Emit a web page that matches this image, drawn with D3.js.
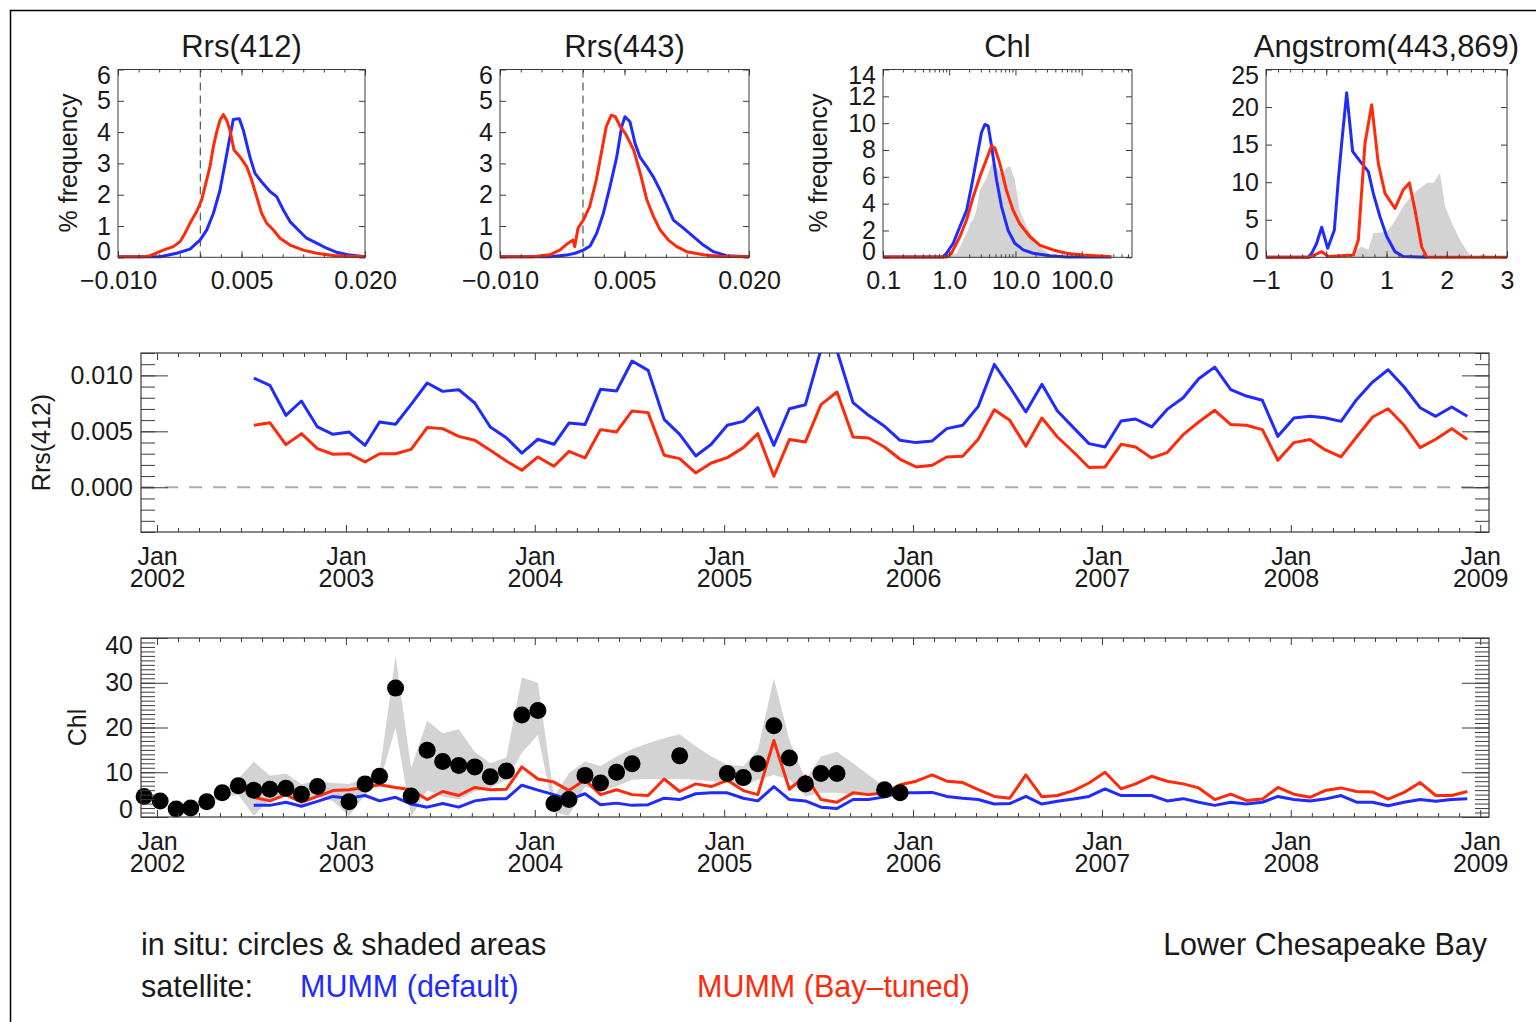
<!DOCTYPE html>
<html><head><meta charset="utf-8">
<script src="https://cdn.jsdelivr.net/npm/d3@7"></script>
<style>
body{margin:0;background:#fff;}
svg{display:block;}
</style></head><body>
<svg id="c" width="1536" height="1022"></svg>
<script>
// ---------------- DATA ----------------
// Histogram: Rrs(412)
const r412BlueX = [-0.010,-0.0049,-0.00287,-0.00126,-0.00004,0.00077,0.00158,0.00239,0.0030,0.0036,0.0040,0.00474,0.00522,0.00603,0.00664,0.00745,0.00846,0.00927,0.01008,0.01089,0.0119,0.01291,0.01413,0.01534,0.01656,0.01818,0.020];
const r412BlueY = [0,0.02,0.13,0.26,0.55,0.87,1.4,2.15,3.0,3.85,4.4,4.43,4.06,3.2,2.68,2.41,2.1,1.94,1.51,1.14,0.87,0.61,0.45,0.29,0.16,0.07,0];
const r412RedX = [-0.010,-0.0069,-0.0061,-0.0045,-0.00328,-0.00247,-0.00186,-0.00125,-0.00045,0.00016,0.00077,0.00117,0.00158,0.00198,0.00239,0.00279,0.0032,0.0036,0.00409,0.00482,0.00563,0.00623,0.00684,0.00745,0.00806,0.00887,0.00968,0.01089,0.01251,0.01413,0.01615,0.01818,0.020];
const r412RedY = [0,0.02,0.05,0.23,0.34,0.5,0.77,1.09,1.46,1.83,2.47,2.9,3.53,4.0,4.38,4.56,4.38,4.06,3.43,3.21,2.9,2.47,1.94,1.4,1.09,0.87,0.61,0.39,0.23,0.13,0.06,0.03,0];
// Histogram: Rrs(443)
const r443BlueX = [-0.010,-0.004,-0.002,-0.00096,0.00004,0.00085,0.00165,0.00245,0.00325,0.00406,0.00466,0.00506,0.00566,0.00627,0.00687,0.00767,0.00847,0.00928,0.0101,0.0109,0.0121,0.0133,0.0145,0.0157,0.0173,0.020];
const r443BlueY = [0,0.01,0.07,0.13,0.23,0.36,0.77,1.4,2.26,3.2,4.17,4.49,4.33,3.64,3.2,2.9,2.57,2.15,1.67,1.19,0.93,0.66,0.39,0.18,0.05,0];
const r443RedX = [-0.010,-0.006,-0.004,-0.0028,-0.0018,-0.0012,-0.001,-0.0006,0.00004,0.0008,0.0016,0.0022,0.0028,0.0034,0.0039,0.0045,0.0051,0.0061,0.0069,0.0077,0.0085,0.0093,0.0103,0.0113,0.0125,0.0145,0.0165,0.020];
const r443RedY = [0,0.02,0.08,0.23,0.45,0.55,0.34,0.93,1.19,1.62,2.47,3.32,4.17,4.54,4.49,4.17,3.96,3.43,2.68,1.83,1.3,0.87,0.55,0.34,0.18,0.08,0.03,0];
// Histogram: Chl
const chlHBlueX = [0.1,0.81,0.91,1.15,1.45,1.83,2.17,2.58,3.07,3.45,3.87,4.35,5.17,6.15,7.75,9.77,13.1,18.5,32.9,58.7,280];
const chlHBlueY = [0,0,0.3,1.05,2.3,3.5,5.3,7.3,9.3,9.9,9.8,8.3,5.8,3.8,2.0,1.05,0.55,0.3,0.12,0.03,0];
const chlHRedX = [0.1,0.91,1.08,1.45,1.83,2.3,2.9,3.65,4.35,4.88,5.8,7.31,9.22,11.6,16.4,23.3,37,58.7,105,186,280];
const chlHRedY = [0,0,0.3,1.55,2.8,4.5,6.0,7.3,8.3,8.15,7.0,5.0,3.5,2.5,1.55,0.9,0.55,0.3,0.17,0.1,0.05];
const chlHSituX = [0.81,1.29,1.6,1.83,2.1,2.3,2.6,2.9,3.65,4.35,5.17,6.15,7.31,8.22,9.77,11.6,14.7,18.5,23.3,29.3,37,46.6];
const chlHSituY = [0,0.3,1.2,1.8,2.6,2.8,3.6,5.0,5.9,7.0,6.8,6.15,6.65,6.8,5.8,3.5,2.3,1.55,0.8,0.4,0.1,0];
// Histogram: Angstrom(443,869)
const angBlueX = [-1,-0.297,-0.242,-0.159,-0.076,0.024,0.134,0.2,0.256,0.339,0.438,0.56,0.699,0.781,0.892,1.003,1.141,1.279,1.667];
const angBlueY = [0,0,0.53,1.87,4.0,1.2,3.6,10.3,15.2,21.9,14.1,12.8,11.4,8.5,5.4,2.8,0.75,0.1,0];
const angRedX = [-1,-0.27,-0.076,0.035,0.45,0.532,0.643,0.754,0.864,0.975,1.141,1.279,1.379,1.473,1.584,1.667,3];
const angRedY = [0,0,0.75,0.1,0.3,2.3,15.2,20.3,12.5,8.5,6.5,9.0,9.9,6.3,1.4,0,0];
const angSituX = [0.45,0.505,0.588,0.699,0.781,0.89,1.003,1.113,1.279,1.445,1.667,1.777,1.888,1.971,2.109,2.248,2.386,2.497,2.607,2.718];
const angSituY = [0,1.0,1.4,1.0,3.2,3.3,3.4,4.5,6.8,8.5,9.9,9.9,11.2,6.8,4.1,1.9,0.3,0,0.5,0];

// Time series (monthly, Jul 2002 - Dec 2008)
const satStart = "2002-07", satEnd = "2009-01";
const rrsBlue = [0.00976,0.00911,0.00643,0.00771,0.00539,0.00473,
 0.00494,0.00375,0.00583,0.00563,0.00741,0.00932,0.00857,0.00872,0.00753,0.00539,0.00443,0.00305,
 0.00429,0.00384,0.00574,0.0056,0.00875,0.0086,0.01128,0.01045,0.00607,0.00473,0.0028,0.00384,
 0.00554,0.00589,0.00711,0.00375,0.00702,0.00738,0.0123,0.0122,0.00756,0.00643,0.00545,0.0042,
 0.00399,0.00414,0.00524,0.00554,0.00723,0.01098,0.00896,0.00673,0.0092,0.00682,0.00533,0.0039,
 0.0036,0.00592,0.0061,0.00539,0.00696,0.008,0.0097,0.01074,0.00872,0.00815,0.00777,0.00455,
 0.00619,0.00634,0.00622,0.00589,0.00783,0.0094,0.0105,0.00896,0.00711,0.00634,0.00717,0.00634];
const rrsRed = [0.00554,0.00577,0.00381,0.00479,0.00345,0.00295,
 0.0030,0.00226,0.0030,0.0030,0.00339,0.00533,0.00524,0.00455,0.0042,0.0033,0.00235,0.00152,
 0.00271,0.00188,0.00321,0.00262,0.00515,0.00494,0.00682,0.00667,0.00286,0.00256,0.00128,0.00217,
 0.00265,0.00354,0.00479,0.00098,0.00426,0.00405,0.00738,0.00851,0.00449,0.0044,0.0036,0.0025,
 0.00182,0.00196,0.00271,0.00277,0.00429,0.00693,0.00598,0.00366,0.00619,0.00449,0.00315,0.00176,
 0.00182,0.00384,0.0036,0.00262,0.0031,0.0047,0.00583,0.00688,0.0056,0.00554,0.00515,0.00241,
 0.00399,0.00426,0.00336,0.00271,0.00449,0.00628,0.00702,0.00554,0.00354,0.00429,0.00524,0.00426];
const chlBlue = [2.6,2.6,3.3,2.4,3.5,4.6,
 4.2,4.8,3.6,4.4,2.9,2.2,3.0,2.2,3.6,4.1,4.1,7.1,
 6.0,5.0,3.9,5.2,2.75,3.1,2.6,2.75,4.2,3.9,5.2,5.4,
 5.4,4.2,3.6,6.8,3.9,3.6,2.2,1.9,3.9,3.9,4.5,5.4,
 5.4,5.5,4.6,4.2,3.9,2.9,3.0,4.6,2.9,3.5,4.0,4.6,
 6.3,4.8,4.8,4.8,3.6,4.1,3.3,2.6,3.3,2.9,3.3,4.6,
 3.9,3.6,4.0,4.8,3.3,3.3,2.5,3.3,3.9,3.5,3.9,4.1];
const chlRed = [4.4,3.6,5.0,3.3,4.6,5.9,
 6.1,6.6,7.2,6.6,6.1,3.9,5.7,4.8,6.6,6.1,6.2,11.2,
 8.5,7.8,5.9,8.3,5.0,6.1,5.0,4.8,8.5,5.7,7.4,6.8,
 8.2,5.9,5.0,17.1,6.2,9.2,3.9,3.3,5.4,5.0,5.4,7.2,
 8.0,9.4,8.0,7.7,6.1,4.6,4.2,9.4,4.5,4.8,5.9,7.6,
 10.0,6.3,7.4,9.1,8.0,7.4,6.5,3.9,5.1,3.7,4.0,6.6,
 5.1,4.4,5.9,6.5,5.7,5.6,4.0,5.5,7.7,4.8,4.8,5.7];
// In situ
const insituMonths = ["2001-12","2002-01","2002-02","2002-03","2002-04","2002-05","2002-06","2002-07","2002-08","2002-09","2002-10","2002-11",
 "2003-01","2003-02","2003-03","2003-04","2003-05","2003-06","2003-07","2003-08","2003-09","2003-10","2003-11","2003-12",
 "2004-01","2004-02","2004-03","2004-04","2004-05","2004-06","2004-07","2004-10",
 "2005-01","2005-02","2005-03","2005-04","2005-05","2005-06","2005-07","2005-08","2005-11","2005-12"];
const insituChl = [4.6,3.6,1.8,2.0,3.4,5.4,7.0,6.0,6.2,6.4,5.1,6.8,
 3.4,7.4,9.1,28.8,4.7,14.9,12.4,11.5,11.2,9.0,10.3,22.8,
 23.8,3.0,3.9,9.3,7.6,10.0,11.9,13.7,
 9.7,8.8,11.9,20.4,13.2,7.4,9.7,9.7,6.1,5.4];
const bandStart = "2002-04", bandEnd = "2006-01";
const bandUpper = [3.8,5.7,8.5,12.4,9.2,9.7,7.4,8.0,7.6,
 7.4,8.7,10.0,36.0,10.9,21.5,18.7,19.6,14.6,12.0,13.3,31.2,
 30.0,4.6,9.8,12.4,11.4,13.5,15.2,16.5,17.6,18.5,15.8,13.5,
 11.7,11.4,15.0,31.0,17.2,8.3,13.5,14.6,12.0,9.4,6.8,5.7];
const bandLower = [3.0,4.2,5.0,0.3,3.9,4.6,3.1,4.6,3.5,
 0.2,5.0,7.6,20.0,0.1,6.0,4.6,3.9,5.7,6.5,8.3,14.3,
 18.4,1.0,0.3,6.8,5.7,6.8,8.3,8.5,8.5,8.5,8.3,8.0,
 7.6,6.8,8.3,9.4,8.3,4.6,5.4,5.4,5.0,4.8,4.8,4.6];

// tick labels / texts
const titles = ["Rrs(412)","Rrs(443)","Chl","Angstrom(443,869)"];
const rrsTicks = [-0.010,0.005,0.020];
const chlTicks = [0.1,1,10,100];
const angTicks = [-1,0,1,2,3];
const rrsYTicks = [0,1,2,3,4,5,6];
const chlYTicks = [0,2,4,6,8,10,12,14];
const angYTicks = [0,5,10,15,20,25];
const midYTicks = [0,0.005,0.010];
const botYTicks = [0,10,20,30,40];

// ---------------- DRAW ----------------
const W=1536,H=1022;
const BLUE="#1f2bff", RED="#ff2a0a", GRAY="#d3d3d3", INK="#1a1a1a", AX="#3a3a3a";
const FONT='"Liberation Sans", Arial, Helvetica, sans-serif';
const svg=d3.select("#c").attr("font-family",FONT);
svg.append("rect").attr("width",W).attr("height",H).attr("fill","#fff");
svg.append("rect").attr("x",10.5).attr("y",10.5).attr("width",1600).attr("height",1100)
  .attr("fill","none").attr("stroke","#000").attr("stroke-width",1.5);

let clipId=0;
function addClip(x0,y0,w,h){
  const id="clip"+(clipId++);
  svg.append("clipPath").attr("id",id).append("rect").attr("x",x0).attr("y",y0).attr("width",w).attr("height",h);
  return "url(#"+id+")";
}
function styleAxis(ga){
  ga.attr("font-family",FONT).attr("font-size",25).attr("color",AX);
  ga.select(".domain").remove();
  ga.selectAll(".tick line").attr("stroke-width",1);
  ga.selectAll(".tick text").attr("fill",INK);
  return ga;
}

function hist(p){
  const g=svg.append("g");
  const x=(p.log?d3.scaleLog():d3.scaleLinear()).domain(p.xDomain).range([p.x0,p.x1]);
  const y=d3.scaleLinear().domain(p.yDomain).range([p.y1,p.y0]);
  const clip=addClip(p.x0,p.y0-2,p.x1-p.x0,p.y1-p.y0+4);
  const pg=g.append("g").attr("clip-path",clip);
  if(p.fill){
    pg.append("path").datum(d3.zip(p.fill[0],p.fill[1]))
      .attr("d",d3.area().x(d=>x(d[0])).y0(y(0)).y1(d=>y(d[1])))
      .attr("fill",GRAY);
  }
  if(p.zero){
    pg.append("line").attr("x1",x(0)).attr("x2",x(0)).attr("y1",p.y0).attr("y2",p.y1)
      .attr("stroke","#555").attr("stroke-width",1.2).attr("stroke-dasharray","8,5");
  }
  p.lines.forEach(l=>{
    pg.append("path").datum(d3.zip(l.x,l.y))
      .attr("d",d3.line().x(d=>x(d[0])).y(d=>y(Math.max(d[1],0.02))))
      .attr("fill","none").attr("stroke",l.color).attr("stroke-width",3).attr("stroke-linejoin","round");
  });
  g.append("rect").attr("x",p.x0).attr("y",p.y0).attr("width",p.x1-p.x0).attr("height",p.y1-p.y0)
    .attr("fill","none").attr("stroke",AX).attr("stroke-width",1);
  // axes
  const bx=styleAxis(g.append("g").attr("transform",`translate(0,${p.y1})`)
    .call(d3.axisBottom(x).tickValues(p.xTicks).tickFormat(p.xFmt).tickSizeInner(-6).tickSizeOuter(0).tickPadding(14)));
  styleAxis(g.append("g").attr("transform",`translate(0,${p.y1})`)
    .call(d3.axisBottom(x).tickValues(p.xMinor).tickFormat("").tickSizeInner(-3).tickSizeOuter(0)));
  styleAxis(g.append("g").attr("transform",`translate(0,${p.y0})`)
    .call(d3.axisTop(x).tickValues(p.xTicks).tickFormat("").tickSizeInner(-6).tickSizeOuter(0)));
  styleAxis(g.append("g").attr("transform",`translate(0,${p.y0})`)
    .call(d3.axisTop(x).tickValues(p.xMinor).tickFormat("").tickSizeInner(-3).tickSizeOuter(0)));
  const ly=styleAxis(g.append("g").attr("transform",`translate(${p.x0},0)`)
    .call(d3.axisLeft(y).tickValues(p.yTicks).tickFormat(d3.format("d")).tickSizeInner(-6).tickSizeOuter(0).tickPadding(7)));
  const tks=ly.selectAll(".tick text").nodes();
  d3.select(tks[0]).attr("dy","0.32em").attr("transform","translate(0,-6)");
  d3.select(tks[tks.length-1]).attr("transform","translate(0,6)");
  styleAxis(g.append("g").attr("transform",`translate(${p.x1},0)`)
    .call(d3.axisRight(y).tickValues(p.yTicks).tickFormat("").tickSizeInner(-6).tickSizeOuter(0)));
  // title
  g.append("text").attr("x",(p.x0+p.x1)/2).attr("y",57).attr("text-anchor","middle")
    .attr("font-size",31).attr("fill",INK).text(p.title);
  if(p.ylabel){
    g.append("text").attr("transform",`translate(${p.ylabelX},163) rotate(-90)`)
      .attr("text-anchor","middle").attr("dy","0.35em").attr("font-size",25).attr("fill",INK).text(p.ylabel);
  }
}

const HY0=69.5, HY1=257.3;
const rrsFmt=d3.format(".3f");
const rrsMinor=d3.range(-0.010,0.02001,0.0025);
hist({x0:118,x1:365,y0:HY0,y1:HY1,xDomain:[-0.010,0.020],yDomain:[0,6],
  xTicks:rrsTicks,xFmt:rrsFmt,xMinor:rrsMinor,yTicks:rrsYTicks,zero:true,
  lines:[{x:r412BlueX,y:r412BlueY,color:BLUE},{x:r412RedX,y:r412RedY,color:RED}],
  title:titles[0],ylabel:"% frequency",ylabelX:68});
hist({x0:500,x1:749,y0:HY0,y1:HY1,xDomain:[-0.010,0.020],yDomain:[0,6],
  xTicks:rrsTicks,xFmt:rrsFmt,xMinor:rrsMinor,yTicks:rrsYTicks,zero:true,
  lines:[{x:r443BlueX,y:r443BlueY,color:BLUE},{x:r443RedX,y:r443RedY,color:RED}],
  title:titles[1]});
const logMinor=[];
[0.1,1,10,100].forEach(dd=>{for(let k=2;k<=9;k++){if(dd*k<575)logMinor.push(dd*k);}});
hist({x0:883,x1:1132,y0:HY0,y1:HY1,log:true,xDomain:[0.1,575],yDomain:[0,14],
  xTicks:chlTicks,xFmt:d3.format(".1f"),xMinor:logMinor,yTicks:chlYTicks,
  fill:[chlHSituX,chlHSituY],
  lines:[{x:chlHBlueX,y:chlHBlueY,color:BLUE},{x:chlHRedX,y:chlHRedY,color:RED}],
  title:titles[2],ylabel:"% frequency",ylabelX:818});
hist({x0:1266,x1:1507,y0:HY0,y1:HY1,xDomain:[-1,3],yDomain:[0,25],
  xTicks:angTicks,xFmt:d3.format("d"),xMinor:d3.range(-1,3.001,0.2),yTicks:angYTicks,
  fill:[angSituX,angSituY],
  lines:[{x:angBlueX,y:angBlueY,color:BLUE},{x:angRedX,y:angRedY,color:RED}],
  title:titles[3]});

// ---------- time series panels ----------
const parseM=d3.timeParse("%Y-%m");
const pos=d=>d3.timeDay.offset(d,6);
const satDates=d3.timeMonth.range(parseM(satStart),parseM(satEnd)).map(pos);
const insituDates=insituMonths.map(m=>pos(parseM(m)));
const bandDates=d3.timeMonth.range(parseM(bandStart),parseM(bandEnd)).map(pos);

const TX0=141, TX1=1489;
const xT=d3.scaleTime().domain([new Date(2001,11,1),new Date(2009,0,18)]).range([TX0,TX1]);
const years=d3.timeYear.range(new Date(2002,0,1),new Date(2009,0,2));
const xMinorT=[];
for(let yr=2001;yr<=2009;yr++){
  const a=+new Date(yr,0,1), b=+new Date(yr+1,0,1);
  for(let k=1;k<9;k++){const t=new Date(a+(b-a)*k/9); if(t>xT.domain()[0]&&t<xT.domain()[1]) xMinorT.push(t);}
}

function tsFrame(g,top,bottom,y,majors,minors,yFmt,nudge){
  g.append("rect").attr("x",TX0).attr("y",top).attr("width",TX1-TX0).attr("height",bottom-top)
    .attr("fill","none").attr("stroke",AX).attr("stroke-width",1.2);
  const bx=styleAxis(g.append("g").attr("transform",`translate(0,${bottom})`)
    .call(d3.axisBottom(xT).tickValues(years).tickFormat("").tickSizeInner(-7).tickSizeOuter(0)));
  bx.selectAll(".tick").append("text").attr("y",33).attr("text-anchor","middle").attr("fill",INK).text("Jan");
  bx.selectAll(".tick").append("text").attr("y",55).attr("text-anchor","middle").attr("fill",INK).text(d=>d.getFullYear());
  styleAxis(g.append("g").attr("transform",`translate(0,${bottom})`)
    .call(d3.axisBottom(xT).tickValues(xMinorT).tickFormat("").tickSizeInner(-4).tickSizeOuter(0)));
  styleAxis(g.append("g").attr("transform",`translate(0,${top})`)
    .call(d3.axisTop(xT).tickValues(years).tickFormat("").tickSizeInner(-7).tickSizeOuter(0)));
  styleAxis(g.append("g").attr("transform",`translate(0,${top})`)
    .call(d3.axisTop(xT).tickValues(xMinorT).tickFormat("").tickSizeInner(-4).tickSizeOuter(0)));
  const ly=styleAxis(g.append("g").attr("transform",`translate(${TX0},0)`)
    .call(d3.axisLeft(y).tickValues(majors).tickFormat(yFmt).tickSizeInner(-27).tickSizeOuter(0).tickPadding(8)));
  if(nudge){
    const n=ly.selectAll(".tick text").nodes();
    d3.select(n[0]).attr("transform","translate(0,-8)");
    d3.select(n[n.length-1]).attr("transform","translate(0,7)");
  }
  styleAxis(g.append("g").attr("transform",`translate(${TX0},0)`)
    .call(d3.axisLeft(y).tickValues(minors).tickFormat("").tickSizeInner(-14).tickSizeOuter(0)));
  styleAxis(g.append("g").attr("transform",`translate(${TX1},0)`)
    .call(d3.axisRight(y).tickValues(majors).tickFormat("").tickSizeInner(-27).tickSizeOuter(0)));
  styleAxis(g.append("g").attr("transform",`translate(${TX1},0)`)
    .call(d3.axisRight(y).tickValues(minors).tickFormat("").tickSizeInner(-14).tickSizeOuter(0)));
}

// Middle: Rrs(412) time series
{
  const top=353, bottom=532;
  const g=svg.append("g");
  const y=d3.scaleLinear().domain([-0.004,0.012]).range([bottom,top]);
  const clip=addClip(TX0,top,TX1-TX0,bottom-top);
  const pg=g.append("g").attr("clip-path",clip);
  pg.append("line").attr("x1",TX0).attr("x2",TX1).attr("y1",y(0)).attr("y2",y(0))
    .attr("stroke","#aaa").attr("stroke-width",2).attr("stroke-dasharray","13,11");
  const line=d3.line().x(d=>xT(d[0])).y(d=>y(d[1]));
  pg.append("path").datum(d3.zip(satDates,rrsBlue)).attr("d",line)
    .attr("fill","none").attr("stroke",BLUE).attr("stroke-width",3).attr("stroke-linejoin","round");
  pg.append("path").datum(d3.zip(satDates,rrsRed)).attr("d",line)
    .attr("fill","none").attr("stroke",RED).attr("stroke-width",3).attr("stroke-linejoin","round");
  tsFrame(g,top,bottom,y,midYTicks,d3.range(-0.004,0.01201,0.001),d3.format(".3f"),false);
  g.append("text").attr("transform",`translate(41,${(top+bottom)/2}) rotate(-90)`)
    .attr("text-anchor","middle").attr("dy","0.35em").attr("font-size",25).attr("fill",INK).text("Rrs(412)");
}

// Bottom: Chl time series
{
  const top=638, bottom=817;
  const g=svg.append("g");
  const y=d3.scaleLinear().domain([0,40]).range([bottom,top]);
  const clip=addClip(TX0,top,TX1-TX0,bottom-top);
  const pg=g.append("g").attr("clip-path",clip);
  pg.append("path").datum(d3.zip(bandDates,bandLower,bandUpper))
    .attr("d",d3.area().x(d=>xT(d[0])).y0(d=>y(d[1])).y1(d=>y(d[2])))
    .attr("fill",GRAY);
  const line=d3.line().x(d=>xT(d[0])).y(d=>y(d[1]));
  pg.append("path").datum(d3.zip(satDates,chlBlue)).attr("d",line)
    .attr("fill","none").attr("stroke",BLUE).attr("stroke-width",3).attr("stroke-linejoin","round");
  pg.append("path").datum(d3.zip(satDates,chlRed)).attr("d",line)
    .attr("fill","none").attr("stroke",RED).attr("stroke-width",3).attr("stroke-linejoin","round");
  g.append("g").selectAll("circle").data(d3.zip(insituDates,insituChl)).join("circle")
    .attr("cx",d=>xT(d[0])).attr("cy",d=>y(d[1])).attr("r",8.5).attr("fill","#000");
  tsFrame(g,top,bottom,y,botYTicks,d3.range(0,40.01,1),d3.format("d"),true);
  g.append("text").attr("transform",`translate(77,${(top+bottom)/2}) rotate(-90)`)
    .attr("text-anchor","middle").attr("dy","0.35em").attr("font-size",25).attr("fill",INK).text("Chl");
}

// Legend / notes
const leg=svg.append("g").attr("font-size",30.5);
leg.append("text").attr("x",141).attr("y",955).attr("fill",INK).text("in situ: circles & shaded areas");
leg.append("text").attr("x",1487).attr("y",955).attr("text-anchor","end").attr("fill",INK).text("Lower Chesapeake Bay");
leg.append("text").attr("x",141).attr("y",997).attr("fill",INK).text("satellite:");
leg.append("text").attr("x",300).attr("y",997).attr("fill",BLUE).text("MUMM (default)");
leg.append("text").attr("x",697).attr("y",997).attr("fill",RED).text("MUMM (Bay\u2013tuned)");
</script>
</body></html>
